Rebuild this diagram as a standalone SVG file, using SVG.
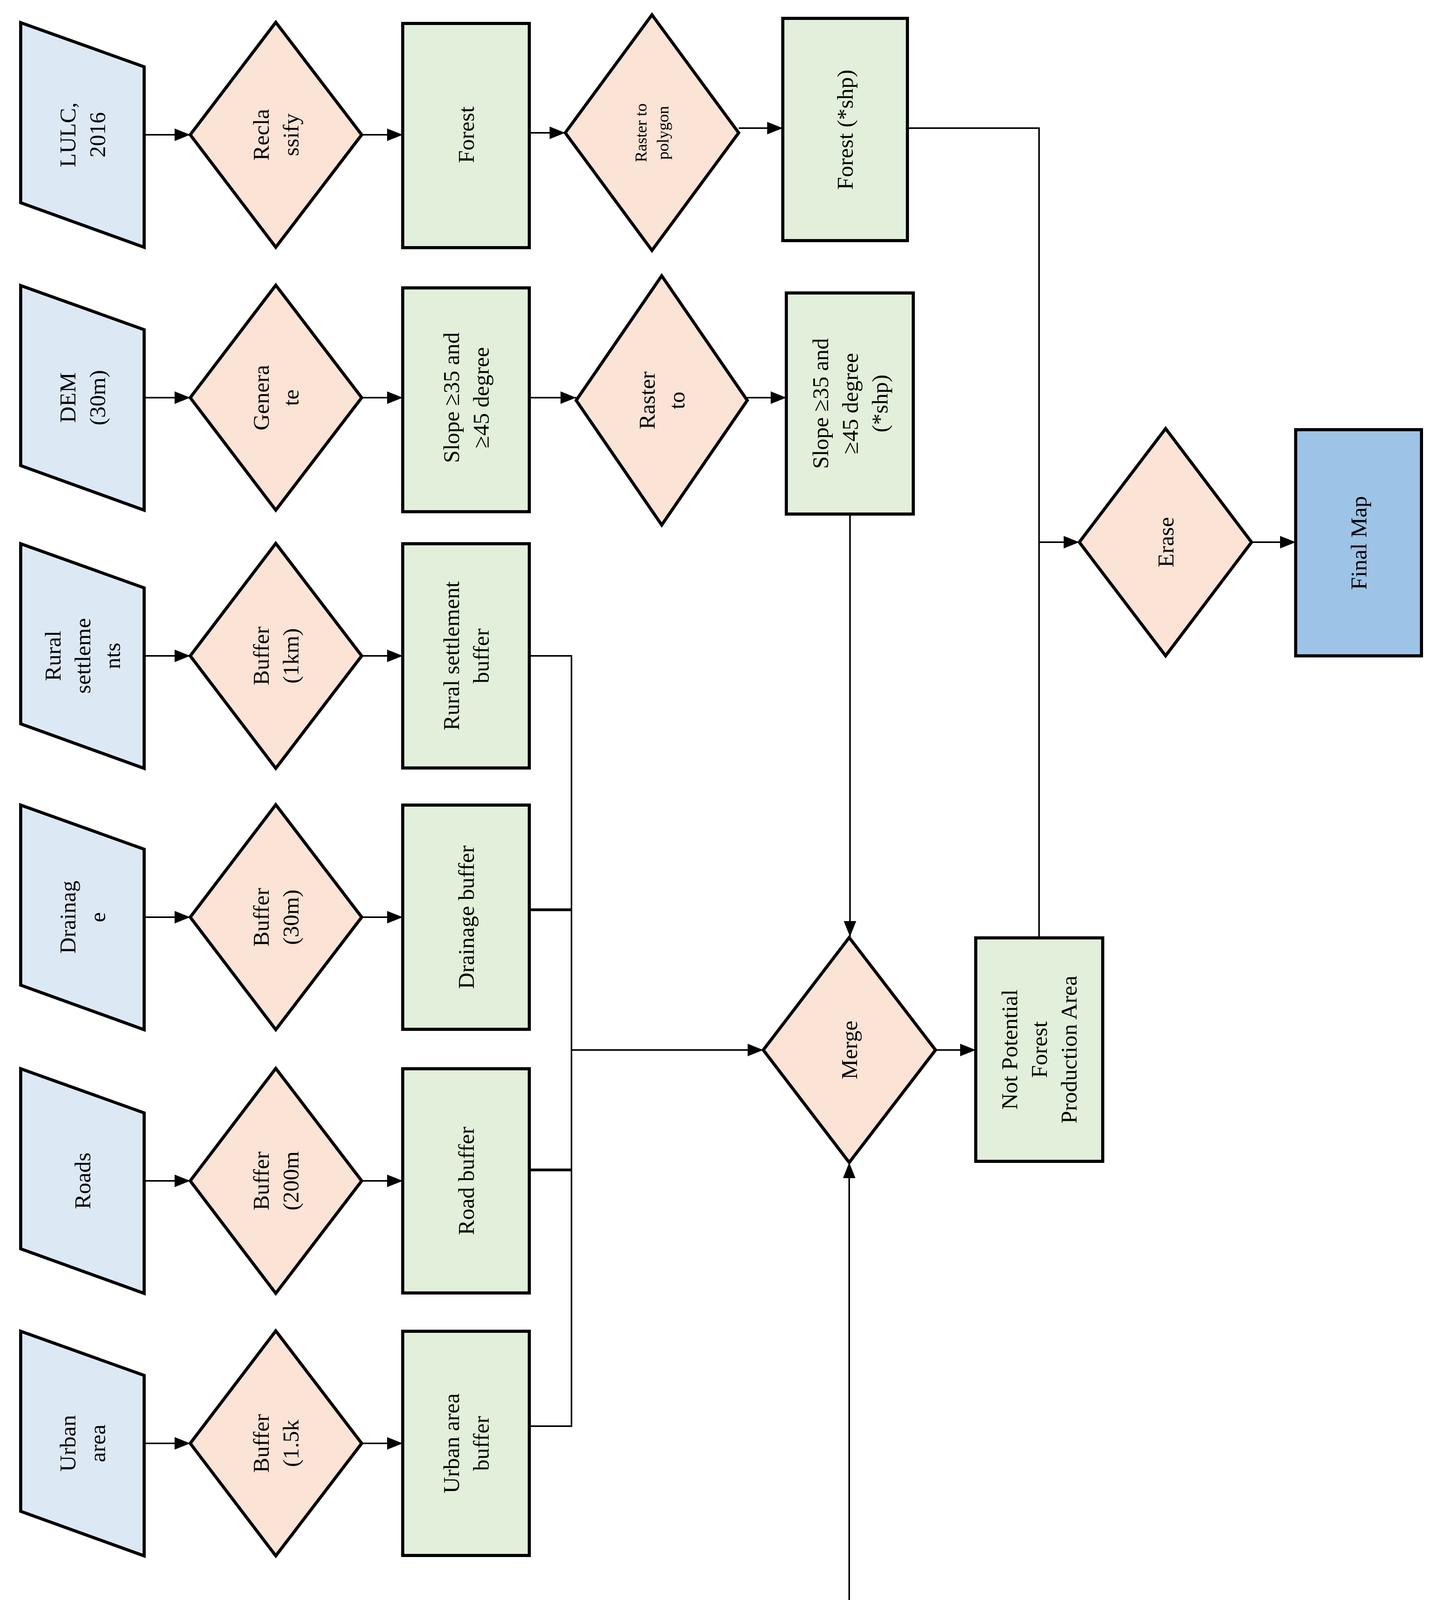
<svg xmlns="http://www.w3.org/2000/svg" width="3689" height="4911" viewBox="0 0 3689 4911">
<style>
.in{fill:#dde8f5;stroke:#000;stroke-width:8}
.op{fill:#fbe3d6;stroke:#000;stroke-width:8}
.out{fill:#e2efda;stroke:#000;stroke-width:8}
.fin{fill:#9dc3e6;stroke:#000;stroke-width:8}
.c{fill:none;stroke:#000;stroke-width:4}
text{font-family:"Liberation Serif","Times New Roman",serif;font-size:58px;fill:#000;text-anchor:middle}
.s{font-size:42px}
</style>
<defs>
<marker id="a" markerWidth="10" markerHeight="10" refX="10" refY="5" orient="auto" markerUnits="userSpaceOnUse" viewBox="0 0 10 10" ><path d="M0,0 L10,5 L0,10 z" fill="#000"/></marker>
<marker id="ah" viewBox="0 0 10 10" refX="10" refY="5" markerWidth="40" markerHeight="40" markerUnits="userSpaceOnUse" orient="auto"><path d="M0,1 L10,5 L0,9 z" fill="#000"/></marker>
</defs>
<rect width="3689" height="4911" fill="#fff"/>
<g id="connectors">
<path class="c" marker-end="url(#ah)" d="M369,345 H487"/>
<path class="c" marker-end="url(#ah)" d="M926,345 H1031"/>
<path class="c" marker-end="url(#ah)" d="M1355,340 H1447"/>
<path class="c" marker-end="url(#ah)" d="M1891,328 H2004"/>
<path class="c" d="M2323,328 H2660 V2401"/>
<path class="c" marker-end="url(#ah)" d="M2660,1388 H2763"/>
<path class="c" marker-end="url(#ah)" d="M3204,1388 H3317"/>
<path class="c" marker-end="url(#ah)" d="M369,1018 H487"/>
<path class="c" marker-end="url(#ah)" d="M926,1018 H1031"/>
<path class="c" marker-end="url(#ah)" d="M1355,1018 H1475"/>
<path class="c" marker-end="url(#ah)" d="M1913,1018 H2013"/>
<path class="c" marker-end="url(#ah)" d="M2176,1316 V2398"/>
<path class="c" marker-end="url(#ah)" d="M369,1679 H487"/>
<path class="c" marker-end="url(#ah)" d="M926,1679 H1031"/>
<path class="c" marker-end="url(#ah)" d="M369,2348 H487"/>
<path class="c" marker-end="url(#ah)" d="M926,2348 H1031"/>
<path class="c" marker-end="url(#ah)" d="M369,3023 H487"/>
<path class="c" marker-end="url(#ah)" d="M926,3023 H1031"/>
<path class="c" marker-end="url(#ah)" d="M369,3695 H487"/>
<path class="c" marker-end="url(#ah)" d="M926,3695 H1031"/>
<path class="c" d="M1355,1679 H1463 V3651 H1355"/>
<path class="c" style="stroke-width:7" d="M1355,2329 H1463 M1355,2995 H1463"/>
<path class="c" marker-end="url(#ah)" d="M1463,2688 H1954"/>
<path class="c" marker-end="url(#ah)" d="M2395,2688 H2498"/>
<path class="c" marker-end="url(#ah)" d="M2174,4158 V2976"/>
<path class="c" d="M1518,4330 V4158 H2824 V4330 M1955,4158 V4330 M2390,4158 V4330"/>
</g>
<g id="lulc"><polygon class="in" points="53,58 369,171 369,633 53,519"/><text transform="translate(211,345) rotate(-90)"><tspan x="0" dy="-18">LULC,</tspan><tspan x="0" dy="76">2016</tspan></text></g>
<g id="reclassify"><polygon class="op" points="487,345 706,57 926,345 706,633"/><text transform="translate(706,345) rotate(-90)"><tspan x="0" dy="-18">Recla</tspan><tspan x="0" dy="76">ssify</tspan></text></g>
<g id="forest"><rect class="out" x="1031" y="60" width="324" height="574"/><text transform="translate(1193,345) rotate(-90)" dy="20">Forest</text></g>
<g id="r2p"><polygon class="op" points="1447,340 1669,38 1891,340 1669,641"/><text class="s" transform="translate(1669,340) rotate(-90)"><tspan x="0" dy="-14">Raster to</tspan><tspan x="0" dy="56">polygon</tspan></text></g>
<g id="forestshp"><rect class="out" x="2004" y="47" width="319" height="569"/><text transform="translate(2163,332) rotate(-90)" dy="20">Forest (*shp)</text></g>

<g id="dem"><polygon class="in" points="53,731 369,844 369,1306 53,1192"/><text transform="translate(211,1018) rotate(-90)"><tspan x="0" dy="-18">DEM</tspan><tspan x="0" dy="76">(30m)</tspan></text></g>
<g id="generate"><polygon class="op" points="487,1018 706,730 926,1018 706,1306"/><text transform="translate(706,1018) rotate(-90)"><tspan x="0" dy="-18">Genera</tspan><tspan x="0" dy="76">te</tspan></text></g>
<g id="slope"><rect class="out" x="1031" y="737" width="324" height="573"/><text transform="translate(1193,1018) rotate(-90)"><tspan x="0" dy="-18">Slope ≥35 and</tspan><tspan x="0" dy="76">≥45 degree</tspan></text></g>
<g id="rasterto"><polygon class="op" points="1475,1025 1694,706 1913,1025 1694,1344"/><text transform="translate(1694,1025) rotate(-90)"><tspan x="0" dy="-18">Raster</tspan><tspan x="0" dy="76">to</tspan></text></g>
<g id="slopeshp"><rect class="out" x="2013" y="750" width="325" height="566"/><text transform="translate(2176,1033) rotate(-90)"><tspan x="0" dy="-56">Slope ≥35 and</tspan><tspan x="0" dy="76">≥45 degree</tspan><tspan x="0" dy="76">(*shp)</tspan></text></g>

<g id="rural"><polygon class="in" points="53,1392 369,1505 369,1967 53,1853"/><text transform="translate(211,1679) rotate(-90)"><tspan x="0" dy="-56">Rural</tspan><tspan x="0" dy="76">settleme</tspan><tspan x="0" dy="76">nts</tspan></text></g>
<g id="buf1"><polygon class="op" points="487,1679 706,1391 926,1679 706,1967"/><text transform="translate(706,1679) rotate(-90)"><tspan x="0" dy="-18">Buffer</tspan><tspan x="0" dy="76">(1km)</tspan></text></g>
<g id="ruralbuf"><rect class="out" x="1031" y="1392" width="324" height="574"/><text transform="translate(1193,1679) rotate(-90)"><tspan x="0" dy="-18">Rural settlement</tspan><tspan x="0" dy="76">buffer</tspan></text></g>

<g id="drainage"><polygon class="in" points="53,2061 369,2174 369,2636 53,2522"/><text transform="translate(211,2348) rotate(-90)"><tspan x="0" dy="-18">Drainag</tspan><tspan x="0" dy="76">e</tspan></text></g>
<g id="buf2"><polygon class="op" points="487,2348 706,2060 926,2348 706,2636"/><text transform="translate(706,2348) rotate(-90)"><tspan x="0" dy="-18">Buffer</tspan><tspan x="0" dy="76">(30m)</tspan></text></g>
<g id="drainbuf"><rect class="out" x="1031" y="2061" width="324" height="574"/><text transform="translate(1193,2348) rotate(-90)" dy="20">Drainage buffer</text></g>

<g id="roads"><polygon class="in" points="53,2736 369,2849 369,3311 53,3197"/><text transform="translate(211,3023) rotate(-90)" dy="20">Roads</text></g>
<g id="buf3"><polygon class="op" points="487,3023 706,2735 926,3023 706,3311"/><text transform="translate(706,3023) rotate(-90)"><tspan x="0" dy="-18">Buffer</tspan><tspan x="0" dy="76">(200m</tspan></text></g>
<g id="roadbuf"><rect class="out" x="1031" y="2736" width="324" height="574"/><text transform="translate(1193,3023) rotate(-90)" dy="20">Road buffer</text></g>

<g id="urban"><polygon class="in" points="53,3408 369,3521 369,3983 53,3869"/><text transform="translate(211,3695) rotate(-90)"><tspan x="0" dy="-18">Urban</tspan><tspan x="0" dy="76">area</tspan></text></g>
<g id="buf4"><polygon class="op" points="487,3695 706,3407 926,3695 706,3983"/><text transform="translate(706,3695) rotate(-90)"><tspan x="0" dy="-18">Buffer</tspan><tspan x="0" dy="76">(1.5k</tspan></text></g>
<g id="urbanbuf"><rect class="out" x="1031" y="3408" width="324" height="574"/><text transform="translate(1193,3695) rotate(-90)"><tspan x="0" dy="-18">Urban area</tspan><tspan x="0" dy="76">buffer</tspan></text></g>

<g id="merge"><polygon class="op" points="1954,2688 2174,2400 2395,2688 2174,2976"/><text transform="translate(2174,2688) rotate(-90)" dy="20">Merge</text></g>
<g id="notpot"><rect class="out" x="2498" y="2401" width="325" height="572"/><text transform="translate(2660,2687) rotate(-90)"><tspan x="0" dy="-56">Not Potential</tspan><tspan x="0" dy="76">Forest</tspan><tspan x="0" dy="76">Production Area</tspan></text></g>
<g id="erase"><polygon class="op" points="2763,1388 2984,1097 3204,1388 2984,1679"/><text transform="translate(2984,1388) rotate(-90)" dy="20">Erase</text></g>
<g id="finalmap"><rect class="fin" x="3317" y="1100" width="322" height="579"/><text transform="translate(3478,1390) rotate(-90)" dy="20">Final Map</text></g>

<g id="ramsar"><polygon class="in" points="1354,4267 1682,4392 1682,4905 1354,4780"/><text transform="translate(1518,4586) rotate(-90)"><tspan x="0" dy="-18">RAMS</tspan><tspan x="0" dy="76">AR sites</tspan></text></g>
<g id="fmus"><polygon class="in" points="1791,4267 2120,4392 2120,4905 1791,4780"/><text transform="translate(1955,4586) rotate(-90)" dy="20">FMUs</text></g>
<g id="recparks"><polygon class="in" points="2226,4267 2554,4392 2554,4905 2226,4780"/><text transform="translate(2390,4586) rotate(-90)"><tspan x="0" dy="-56">Recreati</tspan><tspan x="0" dy="76">onal</tspan><tspan x="0" dy="76">parks</tspan></text></g>
<g id="community"><polygon class="in" points="2660,4267 2989,4392 2989,4905 2660,4780"/><text transform="translate(2824,4586) rotate(-90)"><tspan x="0" dy="-56">Commu</tspan><tspan x="0" dy="76">nity</tspan><tspan x="0" dy="76">forests</tspan></text></g>
</svg>
